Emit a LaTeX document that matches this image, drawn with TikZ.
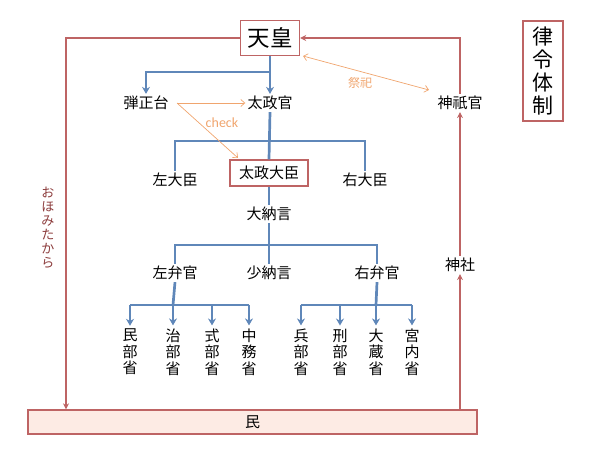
\documentclass[tikz,border=0pt]{standalone}
\usepackage{fontspec}
\setmainfont{Noto Sans CJK JP}
\newfontfamily\latinfont{Carlito}
\usetikzlibrary{arrows.meta,calc}
\definecolor{bluec}{RGB}{95,135,185}
\definecolor{redc}{RGB}{190,100,100}
\definecolor{orangec}{RGB}{240,165,110}
\definecolor{pinkfill}{RGB}{253,235,228}
\definecolor{labelred}{RGB}{140,60,60}
\tikzset{
  lbl/.style={inner sep=2pt, font=\fontsize{15}{16}\selectfont},
  vlbl/.style={inner sep=1pt, align=center, font=\fontsize{15}{16.5}\selectfont},
  redbox/.style={draw=redc, line width=1.4pt, inner sep=0pt},
  blueln/.style={draw=bluec, line width=2.7pt},
  bluearr/.style={blueln, -{Stealth[length=7pt,width=8pt]}},
  redln/.style={draw=redc, line width=1.6pt},
  redarr/.style={redln, -{Stealth[length=6pt,width=6pt]}},
  orarr/.style={draw=orangec, line width=0.7pt, -{Straight Barb[length=4pt,width=7pt]}},
  orlbl/.style={text=orangec, inner sep=1pt}
}
\begin{document}
\begin{tikzpicture}[x=1pt,y=-1pt]
\useasboundingbox (0,0) rectangle (600,450);
% nodes
\node[redbox, minimum width=59pt, minimum height=35pt, font=\fontsize{22.5}{24}\selectfont] (tenno) at (270,38) {天皇};
\node[lbl] (danjo) at (146,103) {弾正台};
\node[lbl] (dajokan) at (270,103) {太政官};
\node[lbl] (jingikan) at (460,103) {神祇官};
\node[lbl] (sadaijin) at (175,180) {左大臣};
\node[redbox, minimum width=78pt, minimum height=26pt, font=\fontsize{15}{16}\selectfont] (daijo) at (269,173) {太政大臣};
\node[lbl] (udaijin) at (365,180) {右大臣};
\node[lbl] (dainagon) at (269,214) {大納言};
\node[lbl] (sabenkan) at (175,273) {左弁官};
\node[lbl] (shonagon) at (269,273) {少納言};
\node[lbl] (ubenkan) at (377,273) {右弁官};
\node[lbl] (jinja) at (460,265) {神社};
\node[vlbl] (m1) at (130,352) {民\\部\\省};
\node[vlbl] (m2) at (173,352) {治\\部\\省};
\node[vlbl] (m3) at (212,352) {式\\部\\省};
\node[vlbl] (m4) at (249,352) {中\\務\\省};
\node[vlbl] (m5) at (301,352) {兵\\部\\省};
\node[vlbl] (m6) at (340,352) {刑\\部\\省};
\node[vlbl] (m7) at (376,352) {大\\蔵\\省};
\node[vlbl] (m8) at (412,352) {宮\\内\\省};
\node[draw=redc, line width=1.3pt, fill=pinkfill, minimum width=449pt, minimum height=24pt, inner sep=0pt, font=\fontsize{15}{16}\selectfont] (tami) at (252.5,422) {民};
\node[redbox, minimum width=40pt, minimum height=100pt, align=center, font=\fontsize{21}{23}\selectfont] (ritsu) at (543,71) {律\\令\\体\\制};
\node[inner sep=0pt, align=center, text=labelred, font=\fontsize{13}{14}\selectfont] (ohomi) at (48,228) {お\\ほ\\み\\た\\か\\ら};
% blue structure
\coordinate (b1) at (270,72);
\draw[bluearr] (tenno.south) -- (dajokan.north);
\draw[bluearr] (b1) -| (danjo.north);
\coordinate (b2) at (270,141);
\draw[blueln] (dajokan.south) -- (daijo.north);
\draw[blueln] (sadaijin.north) |- (b2) -| (udaijin.north);
\draw[blueln] (daijo.south) -- (dainagon.north);
\coordinate (b3) at (269,245);
\draw[blueln] (dainagon.south) -- (shonagon.north);
\draw[blueln] (sabenkan.north) |- (b3) -| (ubenkan.north);
\coordinate (b4) at (173,305);
\coordinate (b5) at (376,305);
\draw[blueln] (sabenkan.south) -- (b4);
\draw[blueln] (ubenkan.south) -- (b5);
\draw[blueln] (m1.north |- b4) -- (m4.north |- b4);
\draw[blueln] (m5.north |- b5) -- (m8.north |- b5);
\foreach \m in {m1,m2,m3,m4} \draw[bluearr] (\m.north |- b4) -- ($(\m.north)+(0,-2)$);
\foreach \m in {m5,m6,m7,m8} \draw[bluearr] (\m.north |- b5) -- ($(\m.north)+(0,-2)$);
% red structure
\coordinate (lt) at (66,38);
\draw[redarr] (tenno.west) -- (lt) -- (lt |- tami.north);
\draw[redarr] (jingikan.north) |- (tenno.east);
\draw[redarr] (jinja.north) -- (jingikan.south);
\draw[redarr] (tami.north -| jinja) -- (jinja.south);
% orange arrows
\coordinate (sa) at (303,56);
\coordinate (sb) at (429,90);
\draw[orarr, {Straight Barb[length=4pt,width=7pt]}-{Straight Barb[length=4pt,width=7pt]}] (sa) -- (sb);
\node[orlbl, font=\fontsize{12}{13}\selectfont] (saishi) at (360,83) {祭祀};
\coordinate (ca) at (177,103);
\coordinate (cb) at (238,158);
\draw[orarr] (ca) -- (dajokan.west);
\draw[orarr] (ca) -- (cb);
\node[orlbl, font=\latinfont\fontsize{14}{16}\selectfont] (check) at (222,123) {check};
\end{tikzpicture}
\end{document}
